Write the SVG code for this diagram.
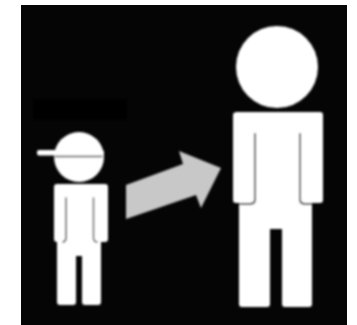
<svg xmlns="http://www.w3.org/2000/svg" width="357" height="325" viewBox="0 0 357 325">
<defs>
<style>
.w{fill:#fff}
.s{fill:none;stroke:#333;stroke-linecap:round}
</style>
<filter id="b" x="-10%" y="-10%" width="120%" height="120%"><feGaussianBlur stdDeviation="0.8"/></filter>
</defs>
<rect width="357" height="325" fill="#fff"/>
<rect x="21" y="5" width="326" height="320" fill="#050505"/>
<rect x="33" y="99" width="94" height="21" fill="#010101" filter="url(#b)"/>
<g id="child" filter="url(#b)">
<circle class="w" cx="79" cy="157" r="25"/>
<rect class="w" x="37" y="150" width="67" height="5.500" rx="2"/>
<path class="s" d="M55 156.500H102" stroke-width="1.300"/>
<path class="w" d="M57 184H105Q108 184 108 187V239Q108 242 105 242H101V302Q101 305 98 305H85Q82 305 82 302V256H76V302Q76 305 73 305H60Q57 305 57 302V242Q54 242 54 239V187Q54 184 57 184Z"/>
<path class="s" d="M66 198V238Q66 241.500 63 242M93.500 198V238Q93.500 241.500 97 242" stroke-width="1.400"/>
</g>
<g id="adult" filter="url(#b)">
<circle class="w" cx="277" cy="67" r="41"/>
<path class="w" d="M237 112H320Q323 112 323 115V200Q323 203 320 203H312V304Q312 307 309 307H285Q282 307 282 304V229H270V304Q270 307 267 307H242Q239 307 239 304V203H236Q233 203 233 200V115Q233 112 237 112Z"/>
<path class="s" d="M255 134V199Q255 204 250 204H240M300 134V199Q300 204 305 204H311" stroke-width="1.800"/>
</g>
<g id="connectors">
<path d="M126 185L183 164L179 151L221 168L201 208L196 195L126 219Z" fill="#c8c8c8" filter="url(#b)"/>
</g>
</svg>
